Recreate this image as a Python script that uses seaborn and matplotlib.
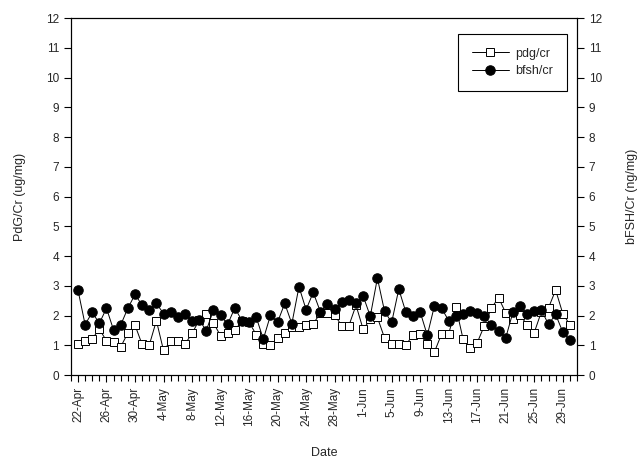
import matplotlib
matplotlib.use("Agg")
import matplotlib.pyplot as plt
import seaborn as sns
import pandas as pd
from matplotlib.ticker import MultipleLocator

# daily values, 22-Apr to 30-Jun
pdg_cr = [1.03, 1.14, 1.22, 1.55, 1.15, 1.10, 0.95, 1.42, 1.68, 1.03,
          1.01, 1.83, 0.83, 1.14, 1.14, 1.04, 1.40, 1.85, 2.05, 1.76,
          1.32, 1.42, 1.51, 1.82, 1.78, 1.36, 1.03, 1.01, 1.25, 1.43,
          1.62, 1.62, 1.69, 1.73, 2.08, 2.08, 2.02, 1.66, 1.66, 2.35,
          1.54, 1.87, 1.94, 1.25, 1.06, 1.06, 1.01, 1.36, 1.38, 1.03,
          0.78, 1.38, 1.38, 2.30, 1.23, 0.90, 1.09, 1.66, 2.26, 2.60,
          2.09, 1.89, 2.01, 1.70, 1.43, 2.13, 2.26, 2.86, 2.07, 1.69]
bfsh_cr = [2.86, 1.70, 2.11, 1.74, 2.25, 1.51, 1.69, 2.25, 2.71, 2.35,
           2.20, 2.41, 2.07, 2.13, 1.96, 2.04, 1.83, 1.85, 1.50, 2.18,
           2.01, 1.71, 2.26, 1.83, 1.77, 1.95, 1.21, 2.01, 1.78, 2.41,
           1.73, 2.97, 2.20, 2.78, 2.13, 2.39, 2.21, 2.45, 2.53, 2.41,
           2.66, 1.98, 3.26, 2.15, 1.77, 2.89, 2.11, 1.98, 2.12, 1.34,
           2.33, 2.25, 1.83, 1.98, 2.04, 2.16, 2.09, 1.98, 1.68, 1.50,
           1.25, 2.11, 2.32, 2.06, 2.16, 2.18, 1.71, 2.04, 1.45, 1.18]
tick_labels = ['22-Apr', '26-Apr', '30-Apr', '4-May', '8-May', '12-May',
               '16-May', '20-May', '24-May', '28-May', '1-Jun', '5-Jun',
               '9-Jun', '13-Jun', '17-Jun', '21-Jun', '25-Jun', '29-Jun']

day = list(range(len(pdg_cr)))
df = pd.DataFrame({'day': day, 'pdg': pdg_cr, 'bfsh': bfsh_cr})

sns.set_style("ticks")
plt.rcParams['font.family'] = ['Liberation Sans', 'DejaVu Sans']

fig = plt.figure(figsize=(6.44, 4.62), dpi=100)
ax = fig.add_axes([0.110, 0.188, 0.786, 0.773])

sns.lineplot(x='day', y='pdg', data=df, ax=ax, color='black', lw=0.7,
             marker='s', markersize=5.5, markerfacecolor='white',
             markeredgecolor='black', markeredgewidth=0.7, label='pdg/cr')
sns.lineplot(x='day', y='bfsh', data=df, ax=ax, color='black', lw=0.7,
             marker='o', markersize=6.8, markerfacecolor='black',
             markeredgecolor='black', label='bfsh/cr')

ax.set_xlim(-1, 70)
ax.set_ylim(0, 12)
ax.set_xticks(range(0, 69, 4))
ax.set_xticklabels(tick_labels, rotation=90)
ax.xaxis.set_minor_locator(MultipleLocator(1))
ax.set_yticks(range(0, 13))
ax.set_xlabel('Date', fontsize=9, labelpad=15)
ax.set_ylabel('PdG/Cr (ug/mg)', fontsize=9, labelpad=14)
ax.tick_params(axis='both', which='major', labelsize=8.5, length=5,
               width=0.8, color='black', direction='out')
ax.tick_params(axis='x', which='minor', length=4, width=0.8, color='black')

ax2 = ax.twinx()
ax2.set_ylim(0, 12)
ax2.set_yticks(range(0, 13))
ax2.set_ylabel('bFSH/Cr (ng/mg)', fontsize=9, rotation=90, labelpad=17)
ax2.tick_params(axis='y', labelsize=8.5, length=5, width=0.8,
                color='black', direction='out')

for a in (ax, ax2):
    for s in a.spines.values():
        s.set_visible(True)
        s.set_color('black')
        s.set_linewidth(0.8)

leg = ax.legend(loc='upper right', bbox_to_anchor=(0.98, 0.955),
                borderaxespad=0, fontsize=9, handlelength=3.0,
                borderpad=1.1, labelspacing=0.45, handletextpad=0.5,
                fancybox=False, framealpha=1, edgecolor='black')
leg.get_frame().set_linewidth(0.8)

fig.savefig('out.png', dpi=100)
